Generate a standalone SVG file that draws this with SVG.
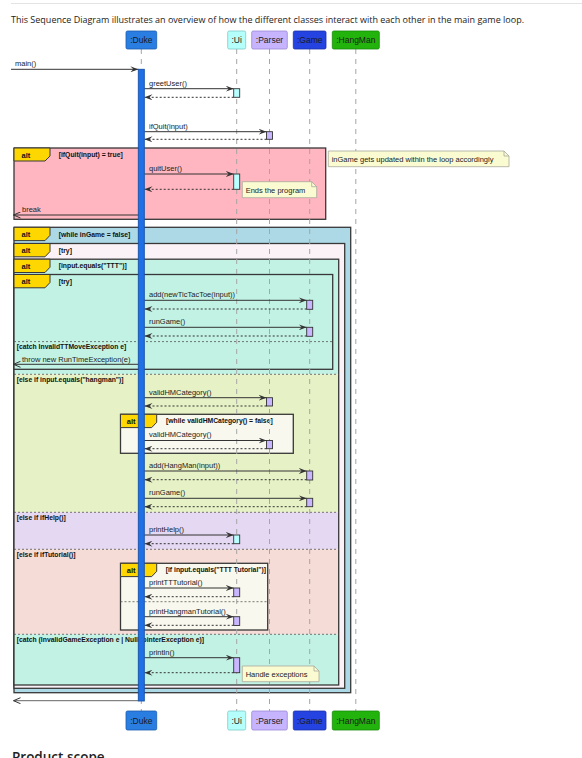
<svg xmlns="http://www.w3.org/2000/svg" width="582" height="758" viewBox="0 0 582 758">
<style>
.msg{font-family:"Liberation Sans",Arial,sans-serif;font-size:7.5px;fill:#222}
.cond{font-family:"Liberation Sans",Arial,sans-serif;font-size:6.8px;font-weight:bold;fill:#111}
.tabt{font-family:"Liberation Sans",Arial,sans-serif;font-size:7.5px;font-weight:bold;fill:#111}
.ptxt{font-family:"Liberation Sans",Arial,sans-serif;font-size:8.5px;fill:#1a1a1a;text-anchor:middle}
.call{stroke:#333;stroke-width:1;fill:none;marker-end:url(#ah)}
.ret{stroke:#333;stroke-width:1;fill:none;stroke-dasharray:2,2;marker-end:url(#ah)}
.out{stroke:#333;stroke-width:1;fill:none;marker-end:url(#oh)}
.life{stroke:#a6a6a6;stroke-width:1;stroke-dasharray:5,5}
.frame{fill:none;stroke:#383838;stroke-width:1.3}
.sep{stroke:#555;stroke-width:.8;stroke-dasharray:2,2}
.tab{fill:#FFD700;stroke:#383838;stroke-width:1}
.note{fill:#FBFBD2;stroke:#A8A89C;stroke-width:.8}
.actc{fill:#B8FFFF;stroke:#333;stroke-width:.9}
.actp{fill:#C8B6FF;stroke:#333;stroke-width:.9}
</style>
<defs>
<marker id="ah" markerUnits="userSpaceOnUse" viewBox="0 0 8 6" refX="8" refY="3" markerWidth="8" markerHeight="6" orient="auto">
<path d="M0,0 L8,3 L0,6 L3,3 Z" fill="#333"/>
</marker>
<marker id="oh" markerUnits="userSpaceOnUse" viewBox="0 0 8 7" refX="7.5" refY="3.5" markerWidth="8" markerHeight="7" orient="auto">
<path d="M0.5,0.5 L7.5,3.5 L0.5,6.5" fill="none" stroke="#333" stroke-width="1"/>
</marker>
</defs>

<rect width="582" height="758" fill="#fff"/>
<line x1="11" y1="3.5" x2="582" y2="3.5" stroke="#e3e3e3" stroke-width="1"/>
<text x="11" y="22.5" font-family="'Open Sans',sans-serif" font-size="9.8" fill="#222" textLength="513" lengthAdjust="spacingAndGlyphs">This Sequence Diagram illustrates an overview of how the different classes interact with each other in the main game loop.</text>

<!-- frames -->
<g id="frame-quit">
<rect x="14" y="148" width="311.7" height="71.3" fill="#FFB6C1" stroke="#383838" stroke-width="1.3"/>
<path class="tab" d="M14,148 H50 V156 L45,161 H14 Z"/>
<text class="tabt" x="21.5" y="157.5">alt</text>
<text class="cond" x="58.7" y="156.8">[ifQuit(input) = true]</text>
</g>

<g id="frame-while">
<rect x="14" y="227.3" width="336.7" height="465.4" fill="#ADD8E6" stroke="#383838" stroke-width="1.3"/>
<path class="tab" d="M14,227.3 H50 V235.3 L45,240.6 H14 Z"/>
<text class="tabt" x="21.5" y="237">alt</text>
<text class="cond" x="58.7" y="236.8">[while inGame = false]</text>
</g>

<g id="frame-try">
<rect x="14" y="243.5" width="330.7" height="444.8" fill="#FBF2F7" stroke="#383838" stroke-width="1.3"/>
<path class="tab" d="M14,243.5 H50 V251.5 L45,256.8 H14 Z"/>
<text class="tabt" x="21.5" y="253.2">alt</text>
<text class="cond" x="58.7" y="252.5">[try]</text>
</g>

<g id="frame-input">
<rect x="14" y="259.2" width="324.7" height="115.1" fill="#C2F2E4"/>
<rect x="14" y="374.3" width="324.7" height="138" fill="#E6F2C5"/>
<rect x="14" y="512.3" width="324.7" height="37" fill="#E4D8F2"/>
<rect x="14" y="549.3" width="324.7" height="85" fill="#F6DCD7"/>
<rect x="14" y="634.3" width="324.7" height="50.7" fill="#C2F2E4"/>
<rect class="frame" x="14" y="259.2" width="324.7" height="425.8"/>
<line class="sep" x1="14" y1="374.3" x2="338.7" y2="374.3"/>
<line class="sep" x1="14" y1="512.3" x2="338.7" y2="512.3"/>
<line class="sep" x1="14" y1="549.3" x2="338.7" y2="549.3"/>
<line class="sep" x1="14" y1="634.3" x2="338.7" y2="634.3"/>
<path class="tab" d="M14,259.2 H50 V267.2 L45,272.5 H14 Z"/>
<text class="tabt" x="21.5" y="268.9">alt</text>
<text class="cond" x="58.7" y="268.2">[input.equals("TTT")]</text>
<text class="cond" x="16.7" y="381.5">[else if input.equals("hangman")]</text>
<text class="cond" x="16.7" y="519.8">[else if ifHelp()]</text>
<text class="cond" x="16.7" y="556.5">[else if ifTutorial()]</text>
<text class="cond" x="16.7" y="641.8">[catch (InvalidGameException e | NullPointerException e)]</text>
</g>

<g id="frame-try-ttt">
<rect x="14" y="274.5" width="318.7" height="94.8" fill="#C2F2E4" stroke="#383838" stroke-width="1.3"/>
<line class="sep" x1="14" y1="341.6" x2="332.7" y2="341.6"/>
<path class="tab" d="M14,274.5 H50 V282.5 L45,287.8 H14 Z"/>
<text class="tabt" x="21.5" y="284.2">alt</text>
<text class="cond" x="58.7" y="283.8">[try]</text>
<text class="cond" x="16.7" y="348.8">[catch InvalidTTMoveException e]</text>
</g>

<g id="frame-hmwhile">
<rect x="120.5" y="414.3" width="172.8" height="39" fill="#F8F8EE" stroke="#383838" stroke-width="1.3"/>
<path class="tab" d="M120.5,414.3 H156.7 V422.3 L151.7,427.6 H120.5 Z"/>
<text class="tabt" x="126.8" y="424">alt</text>
<text class="cond" x="166" y="422.8">[while validHMCategory() = false]</text>
</g>

<g id="frame-tutorial">
<rect x="120.5" y="563.3" width="147.2" height="66.7" fill="#F8F8EE" stroke="#383838" stroke-width="1.3"/>
<line class="sep" x1="120.5" y1="601.7" x2="267.7" y2="601.7"/>
<path class="tab" d="M120.5,563.3 H156.7 V571.3 L151.7,576.6 H120.5 Z"/>
<text class="tabt" x="126.8" y="573">alt</text>
<text class="cond" x="165.7" y="571.5">[if input.equals("TTT Tutorial")]</text>
</g>

<!-- lifelines -->
<g id="lifelines">
<line class="life" x1="141.3" y1="49" x2="141.3" y2="711"/>
<line class="life" x1="236.7" y1="49" x2="236.7" y2="711"/>
<line class="life" x1="269.5" y1="49" x2="269.5" y2="711"/>
<line class="life" x1="309.7" y1="49" x2="309.7" y2="711"/>
<line class="life" x1="355.8" y1="49" x2="355.8" y2="711"/>
</g>

<!-- participants -->
<g id="p-duke">
<rect x="126" y="31" width="30.7" height="18" rx="1.5" fill="#2A7DE1" stroke="#1a5cb0" stroke-width=".8"/>
<text class="ptxt" x="141.3" y="43">:Duke</text>
<rect x="126" y="711" width="30.7" height="19" rx="1.5" fill="#2A7DE1" stroke="#1a5cb0" stroke-width=".8"/>
<text class="ptxt" x="141.3" y="723.5">:Duke</text>
</g>
<g id="p-ui">
<rect x="227.7" y="31" width="18" height="18" rx="1.5" fill="#B4FFFC" stroke="#7fc9c6" stroke-width=".8"/>
<text class="ptxt" x="236.7" y="43">:Ui</text>
<rect x="227.7" y="711" width="18" height="19" rx="1.5" fill="#B4FFFC" stroke="#7fc9c6" stroke-width=".8"/>
<text class="ptxt" x="236.7" y="723.5">:Ui</text>
</g>
<g id="p-parser">
<rect x="251.7" y="31" width="35.6" height="18" rx="1.5" fill="#C6B4FF" stroke="#9a88d4" stroke-width=".8"/>
<text class="ptxt" x="269.5" y="43">:Parser</text>
<rect x="251.7" y="711" width="35.6" height="19" rx="1.5" fill="#C6B4FF" stroke="#9a88d4" stroke-width=".8"/>
<text class="ptxt" x="269.5" y="723.5">:Parser</text>
</g>
<g id="p-game">
<rect x="293.3" y="31" width="32.7" height="18" rx="1.5" fill="#2443E0" stroke="#1a30a8" stroke-width=".8"/>
<text class="ptxt" x="309.7" y="43">:Game</text>
<rect x="293.3" y="711" width="32.7" height="19" rx="1.5" fill="#2443E0" stroke="#1a30a8" stroke-width=".8"/>
<text class="ptxt" x="309.7" y="723.5">:Game</text>
</g>
<g id="p-hangman">
<rect x="332.3" y="31" width="47" height="18" rx="1.5" fill="#22B40C" stroke="#188a08" stroke-width=".8"/>
<text class="ptxt" x="355.8" y="43">:HangMan</text>
<rect x="332.3" y="711" width="47" height="19" rx="1.5" fill="#22B40C" stroke="#188a08" stroke-width=".8"/>
<text class="ptxt" x="355.8" y="723.5">:HangMan</text>
</g>

<!-- activations -->
<g id="activations">
<rect x="233.7" y="88.7" width="6" height="8.6" class="actc"/>
<rect x="266.5" y="131.7" width="6" height="7.6" class="actp"/>
<rect x="233.7" y="174" width="6" height="15.3" class="actc"/>
<rect x="306.7" y="300.3" width="6" height="9" class="actp"/>
<rect x="306.7" y="327.3" width="6" height="9" class="actp"/>
<rect x="266.5" y="397.7" width="6" height="8.3" class="actp"/>
<rect x="266.5" y="440.5" width="6" height="8.2" class="actp"/>
<rect x="306.7" y="471" width="6" height="9" class="actp"/>
<rect x="306.7" y="498.3" width="6" height="8.4" class="actp"/>
<rect x="233.7" y="535" width="6" height="8.7" class="actc"/>
<rect x="233.7" y="588" width="6" height="8.7" class="actp"/>
<rect x="233.7" y="616.7" width="6" height="8.8" class="actp"/>
<rect x="233.7" y="657.7" width="6" height="15" class="actp"/>
</g>

<!-- connectors -->
<g id="connectors">
<line class="call" x1="11" y1="69.3" x2="138.3" y2="69.3"/>
<text class="msg" x="15" y="66">main()</text>

<line class="call" x1="144.3" y1="88.7" x2="233.7" y2="88.7"/>
<text class="msg" x="149" y="85.5">greetUser()</text>
<line class="ret" x1="233.7" y1="97.3" x2="144.5" y2="97.3"/>

<line class="call" x1="144.3" y1="131.7" x2="266.5" y2="131.7"/>
<text class="msg" x="149" y="128.5">ifQuit(input)</text>
<line class="ret" x1="266.5" y1="139.3" x2="144.5" y2="139.3"/>

<line class="call" x1="144.3" y1="174" x2="233.7" y2="174"/>
<text class="msg" x="149" y="170.8">quitUser()</text>
<line class="ret" x1="233.7" y1="189.3" x2="144.5" y2="189.3"/>

<line class="out" x1="138.3" y1="215" x2="13.5" y2="215"/>
<text class="msg" x="22" y="211.8">break</text>

<line class="call" x1="144.3" y1="300.3" x2="306.7" y2="300.3"/>
<text class="msg" x="149" y="297.1">add(newTicTacToe(input))</text>
<line class="ret" x1="306.7" y1="309" x2="144.5" y2="309"/>

<line class="call" x1="144.3" y1="327.3" x2="306.7" y2="327.3"/>
<text class="msg" x="149" y="324.1">runGame()</text>
<line class="ret" x1="306.7" y1="336" x2="144.5" y2="336"/>

<line class="out" x1="138.3" y1="364.3" x2="13.5" y2="364.3"/>
<text class="msg" x="22" y="361.5">throw new RunTimeException(e)</text>

<line class="call" x1="144.3" y1="397.7" x2="266.5" y2="397.7"/>
<text class="msg" x="149" y="394.5">validHMCategory()</text>
<line class="ret" x1="266.5" y1="406" x2="144.5" y2="406"/>

<line class="call" x1="144.3" y1="440.5" x2="266.5" y2="440.5"/>
<text class="msg" x="149" y="437.3">validHMCategory()</text>
<line class="ret" x1="266.5" y1="448.7" x2="144.5" y2="448.7"/>

<line class="call" x1="144.3" y1="471" x2="306.7" y2="471"/>
<text class="msg" x="149" y="467.8">add(HangMan(input))</text>
<line class="ret" x1="306.7" y1="479.7" x2="144.5" y2="479.7"/>

<line class="call" x1="144.3" y1="498.3" x2="306.7" y2="498.3"/>
<text class="msg" x="149" y="495.1">runGame()</text>
<line class="ret" x1="306.7" y1="506.7" x2="144.5" y2="506.7"/>

<line class="call" x1="144.3" y1="535" x2="233.7" y2="535"/>
<text class="msg" x="149" y="531.8">printHelp()</text>
<line class="ret" x1="233.7" y1="543.7" x2="144.5" y2="543.7"/>

<line class="call" x1="144.3" y1="588" x2="233.7" y2="588"/>
<text class="msg" x="149" y="584.8">printTTTutorial()</text>
<line class="ret" x1="233.7" y1="596.7" x2="144.5" y2="596.7"/>

<line class="call" x1="144.3" y1="616.7" x2="233.7" y2="616.7"/>
<text class="msg" x="149" y="613.5">printHangmanTutorial()</text>
<line class="ret" x1="233.7" y1="625.3" x2="144.5" y2="625.3"/>

<line class="call" x1="144.3" y1="657.7" x2="233.7" y2="657.7"/>
<text class="msg" x="149" y="654.5">println()</text>
<line class="ret" x1="233.7" y1="672.7" x2="144.5" y2="672.7"/>

<line class="out" x1="138.3" y1="700.7" x2="13.5" y2="700.7" stroke-width="1.4" style="stroke:#666"/>
</g>

<!-- main Duke activation -->
<g id="duke-activation">
<rect x="138.3" y="69.3" width="6" height="631.7" fill="#1F6FE6" stroke="#1650a8" stroke-width=".9"/>
</g>

<!-- notes -->
<g id="note-ingame">
<path class="note" d="M328.3,151 H504 L509,156 V166.7 H328.3 Z"/>
<path d="M504,151 V156 H509" fill="none" stroke="#A8A89C" stroke-width=".8"/>
<text class="msg" x="331.7" y="161.8">inGame gets updated within the loop accordingly</text>
</g>
<g id="note-ends">
<path class="note" d="M242.3,181.7 H311.7 L316.7,186.7 V197.7 H242.3 Z"/>
<path d="M311.7,181.7 V186.7 H316.7" fill="none" stroke="#A8A89C" stroke-width=".8"/>
<text class="msg" x="245.7" y="192.5">Ends the program</text>
</g>
<g id="note-handle">
<path class="note" d="M242.3,666 H314 L319,671 V681.7 H242.3 Z"/>
<path d="M314,666 V671 H319" fill="none" stroke="#A8A89C" stroke-width=".8"/>
<text class="msg" x="245.7" y="676.7">Handle exceptions</text>
</g>

<text x="12" y="762" font-family="'Open Sans',sans-serif" font-size="13.5" font-weight="600" fill="#222">Product scope</text>
</svg>
